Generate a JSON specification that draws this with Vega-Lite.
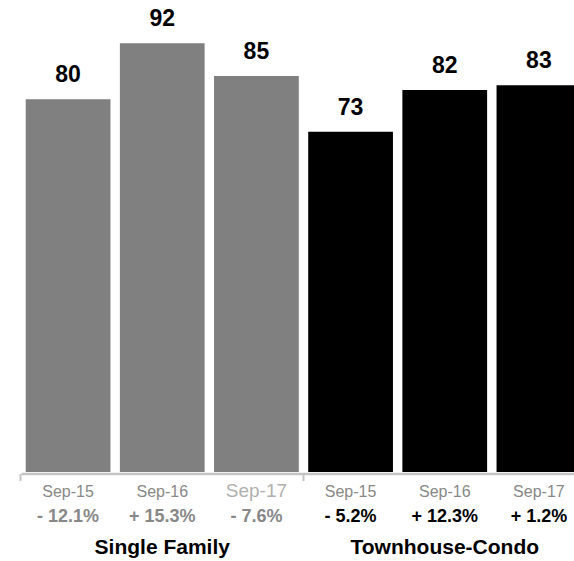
{
  "$schema": "https://vega.github.io/schema/vega-lite/v6.json",
  "width": 553,
  "height": 466,
  "autosize": {"type": "none"},
  "padding": {"left": 21, "top": 6, "right": 0, "bottom": 89},
  "background": "white",
  "config": {"view": {"stroke": null}, "font": "Liberation Sans"},
  "data": {"values": [
    {"key": "Single Family|Sep-15|- 12.1%", "group": "Single Family", "month": "Sep-15", "change": "- 12.1%", "value": 80},
    {"key": "Single Family|Sep-16|+ 15.3%", "group": "Single Family", "month": "Sep-16", "change": "+ 15.3%", "value": 92},
    {"key": "Single Family|Sep-17|- 7.6%", "group": "Single Family", "month": "Sep-17", "change": "- 7.6%", "value": 85},
    {"key": "Townhouse-Condo|Sep-15|- 5.2%", "group": "Townhouse-Condo", "month": "Sep-15", "change": "- 5.2%", "value": 73},
    {"key": "Townhouse-Condo|Sep-16|+ 12.3%", "group": "Townhouse-Condo", "month": "Sep-16", "change": "+ 12.3%", "value": 82},
    {"key": "Townhouse-Condo|Sep-17|+ 1.2%", "group": "Townhouse-Condo", "month": "Sep-17", "change": "+ 1.2%", "value": 83}
  ]},
  "layer": [
    {
      "mark": {"type": "bar"},
      "encoding": {
        "x": {"field": "key", "type": "nominal", "sort": null,
          "scale": {"range": [0, 565], "paddingInner": 0.1, "paddingOuter": 0.05},
          "axis": {"title": null, "labels": false, "orient": "bottom",
            "values": ["Single Family|Sep-15|- 12.1%", "Townhouse-Condo|Sep-15|- 5.2%"],
            "bandPosition": -0.0556, "domainColor": "#c4c4c4", "domainWidth": 2.7,
            "tickColor": "#c4c4c4", "tickWidth": 2, "tickSize": 7, "offset": 1.5, "grid": false}},
        "y": {"field": "value", "type": "quantitative", "scale": {"domain": [0, 100], "nice": false}, "axis": null},
        "color": {"field": "group", "type": "nominal", "scale": {"domain": ["Single Family", "Townhouse-Condo"], "range": ["#808080", "#000000"]}, "legend": null}
      }
    },
    {
      "mark": {"type": "text", "baseline": "alphabetic", "dy": -17, "fontSize": 23, "fontWeight": "bold", "color": "#000000"},
      "encoding": {
        "x": {"field": "key", "type": "nominal", "sort": null,
          "axis": {"title": null, "orient": "bottom", "domain": false, "ticks": false, "tickSize": 0,
            "labelExpr": "split(datum.value, '|')[1]", "labelBaseline": "alphabetic", "labelPadding": 24,
            "labelFontSize": {"condition": {"test": "datum.value == 'Single Family|Sep-17|- 7.6%'", "value": 19}, "value": 16},
            "labelColor": {"condition": {"test": "datum.value == 'Single Family|Sep-17|- 7.6%'", "value": "#b0b0b0"}, "value": "#888888"},
            "labelOverlap": false, "labelBound": false, "labelFlush": false, "labelLimit": 400, "labelAngle": 0, "grid": false}},
        "y": {"field": "value", "type": "quantitative"},
        "text": {"field": "value", "type": "quantitative"}
      }
    },
    {
      "mark": {"type": "text", "opacity": 0},
      "encoding": {
        "x": {"field": "key", "type": "nominal", "sort": null,
          "axis": {"title": null, "orient": "bottom", "domain": false, "ticks": false, "tickSize": 0,
            "labelExpr": "split(datum.value, '|')[2]", "labelBaseline": "alphabetic", "labelPadding": 49.5,
            "labelFontSize": 18, "labelFontWeight": "bold",
            "labelColor": {"condition": {"test": "indexof(datum.value, 'Single Family') == 0", "value": "#888888"}, "value": "#000000"},
            "labelOverlap": false, "labelBound": false, "labelFlush": false, "labelLimit": 400, "labelAngle": 0, "grid": false}},
        "y": {"field": "value", "type": "quantitative"},
        "text": {"value": ""}
      }
    },
    {
      "mark": {"type": "text", "opacity": 0},
      "encoding": {
        "x": {"field": "key", "type": "nominal", "sort": null,
          "axis": {"title": null, "orient": "bottom", "domain": false, "ticks": false, "tickSize": 0,
            "labelExpr": "indexof(datum.value, 'Sep-16') >= 0 ? split(datum.value, '|')[0] : ''", "labelBaseline": "alphabetic", "labelPadding": 81.5,
            "labelFontSize": 21, "labelFontWeight": "bold", "labelColor": "#000000",
            "labelOverlap": false, "labelBound": false, "labelFlush": false, "labelLimit": 400, "labelAngle": 0, "grid": false}},
        "y": {"field": "value", "type": "quantitative"},
        "text": {"value": ""}
      }
    }
  ],
  "resolve": {"axis": {"x": "independent"}}
}
